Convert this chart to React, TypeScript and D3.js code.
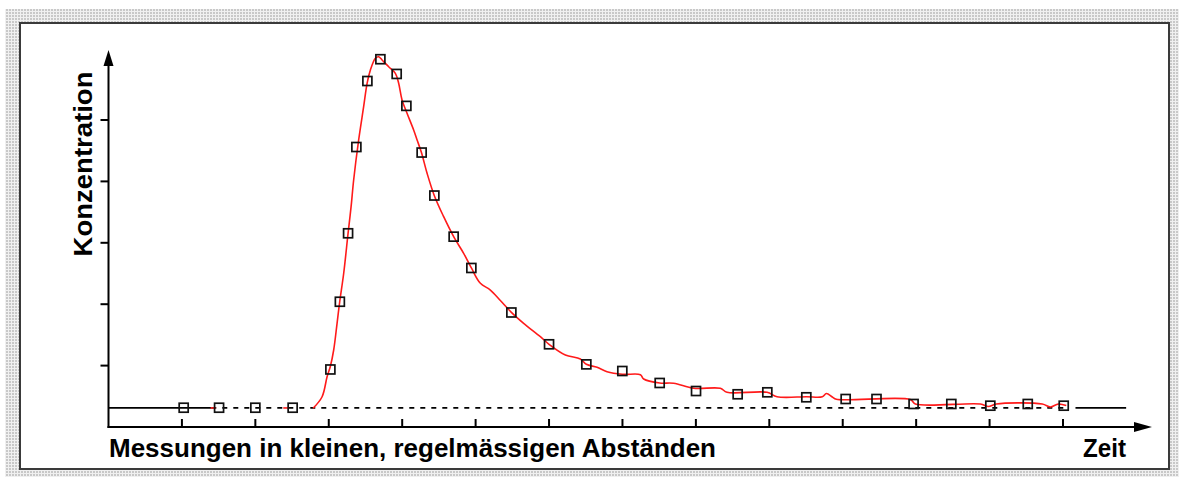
import React from "react";
import * as d3 from "d3";

// ---- data (time units, concentration units) ----
const markerX = [10.24, 15.06, 20.0, 25.08, 30.22, 31.51, 32.63, 33.76, 35.26, 37.03, 39.25, 40.57, 42.65, 44.38, 47.01, 49.42, 54.87, 60.0, 65.08, 69.98, 75.07, 80.02, 85.69, 89.73, 95.04, 100.4, 104.6, 109.65, 114.79, 120.1, 125.2, 130.1];
const markerY = [0.314, 0.314, 0.314, 0.314, 0.937, 2.04, 3.155, 4.56, 5.635, 5.99, 5.75, 5.23, 4.47, 3.77, 3.1, 2.59, 1.865, 1.347, 1.02, 0.912, 0.717, 0.586, 0.533, 0.565, 0.484, 0.456, 0.456, 0.375, 0.375, 0.347, 0.375, 0.347];

const curveX = [27.86, 29.09, 29.77, 30.22, 30.67, 31.13, 31.49, 32.03, 32.63, 33.04, 33.39, 34.07, 34.75, 35.22, 35.67, 36.35, 36.8, 37.26, 38.16, 39.07, 39.52, 39.98, 40.66, 41.56, 42.03, 42.61, 43.39, 44.38, 45.65, 47.01, 48.37, 49.42, 50.65, 52.01, 53.37, 54.87, 56.54, 58.82, 60.0, 62.22, 64.26, 65.08, 66.54, 67.9, 69.98, 72.44, 72.89, 75.07, 76.97, 79.69, 83.33, 84.24, 89.69, 91.05, 95.04, 97.22, 97.77, 98.58, 99.13, 109.21, 109.89, 118.74, 119.83, 120.92, 127.18, 128.27, 129.36, 130.45];
const curveY = [0.305, 0.493, 0.819, 0.99, 1.254, 1.689, 2.04, 2.5, 3.155, 3.588, 4.023, 4.674, 5.217, 5.598, 5.814, 6.005, 6.03, 5.977, 5.868, 5.76, 5.598, 5.326, 5.109, 4.837, 4.674, 4.474, 4.132, 3.767, 3.425, 3.1, 2.829, 2.59, 2.34, 2.231, 2.06, 1.868, 1.689, 1.471, 1.347, 1.173, 1.107, 1.021, 0.972, 0.9, 0.858, 0.852, 0.782, 0.717, 0.712, 0.63, 0.63, 0.565, 0.565, 0.493, 0.493, 0.493, 0.546, 0.489, 0.451, 0.448, 0.375, 0.375, 0.334, 0.375, 0.375, 0.326, 0.375, 0.35];

// small red fragments on the baseline
const fragStart = [13.9, 23.8];
const fragEnd = [14.6, 24.6];

const baselineValue = 0.31;
const solidLeftEnd = 14;
const dashedEnd = 130.8;
const solidRightStart = 131.7;
const solidRightEnd = 138.6;

const xTicks = [10, 20, 30, 40, 50, 60, 70, 80, 90, 100, 110, 120, 130];
const yTicks = [1, 2, 3, 4, 5];

const yLabel = "Konzentration";
const xLabel = "Messungen in kleinen, regelmässigen Abständen";
const xEndLabel = "Zeit";

export default function App() {
  const W = 1179, H = 477;
  const x = d3.scaleLinear().domain([0, 130]).range([108.5, 1063]);
  const y = d3.scaleLinear().domain([0, 1]).range([427, 365.6]);

  const line = d3
    .line<number>()
    .x((_, i) => x(curveX[i]))
    .y((d) => y(d))
    .curve(d3.curveCatmullRom.alpha(0.5));

  const font = "'Liberation Sans', Arial, sans-serif";
  const x0 = x(0);
  const y0 = y(0);
  const yb = y(baselineValue);

  return (
    <svg
      width={W}
      height={H}
      style={{ position: "absolute", left: 0, top: 0, display: "block" }}
    >
      <defs>
        <pattern id="grid" width="3" height="3" patternUnits="userSpaceOnUse">
          <rect width="3" height="3" fill="#f0f0f0" />
          <rect width="2" height="2" fill="#c8c8c8" />
        </pattern>
      </defs>
      <rect x={0} y={0} width={W} height={H} fill="#fff" />
      <rect x={5} y={9} width={W - 5} height={H - 9} fill="url(#grid)" />
      <rect x={20} y={23} width={1149} height={446} fill="#fff" stroke="#3a3a3a" strokeWidth={2} />

      {/* baseline */}
      <line x1={x0} x2={x(solidLeftEnd)} y1={yb} y2={yb} stroke="#000" strokeWidth={1.8} />
      <line x1={x(solidLeftEnd)} x2={x(dashedEnd)} y1={yb} y2={yb} stroke="#000" strokeWidth={1.8} strokeDasharray="5 6" />
      <line x1={x(solidRightStart)} x2={x(solidRightEnd)} y1={yb} y2={yb} stroke="#000" strokeWidth={1.8} />

      {/* axes */}
      <line x1={x0} x2={x0} y1={y0 + 1} y2={64} stroke="#000" strokeWidth={2} />
      <path d={`M${x0},50 L${x0 - 5},66 L${x0 + 5},66 Z`} fill="#000" />
      <line x1={x0 - 1} x2={1136} y1={y0} y2={y0} stroke="#000" strokeWidth={2} />
      <path d={`M1152,${y0} L1134,${y0 - 5} L1134,${y0 + 5} Z`} fill="#000" />

      {yTicks.map((t) => (
        <line key={"yt" + t} x1={x0 - 8} x2={x0} y1={y(t)} y2={y(t)} stroke="#000" strokeWidth={2} />
      ))}
      {xTicks.map((t) => (
        <line key={"xt" + t} x1={x(t)} x2={x(t)} y1={y0} y2={y0 - 8} stroke="#000" strokeWidth={2} />
      ))}

      {/* red curve */}
      <path d={line(curveY) || ""} fill="none" stroke="#ff1a1a" strokeWidth={1.6} />
      {fragStart.map((s, i) => (
        <line key={"fr" + i} x1={x(s)} x2={x(fragEnd[i])} y1={yb} y2={yb} stroke="#ff1a1a" strokeWidth={1.6} />
      ))}

      {/* markers */}
      {markerX.map((mx, i) => (
        <rect
          key={"m" + i}
          x={x(mx) - 4.5}
          y={y(markerY[i]) - 4.5}
          width={9}
          height={9}
          fill="none"
          stroke="#111"
          strokeWidth={1.7}
        />
      ))}

      {/* labels */}
      <text
        transform={`translate(92,164) rotate(-90)`}
        textAnchor="middle"
        fontFamily={font}
        fontWeight="bold"
        fontSize={26}
        textLength={185}
        lengthAdjust="spacingAndGlyphs"
        fill="#000"
      >
        {yLabel}
      </text>
      <text
        x={109}
        y={457}
        fontFamily={font}
        fontWeight="bold"
        fontSize={26}
        textLength={607}
        lengthAdjust="spacingAndGlyphs"
        fill="#000"
      >
        {xLabel}
      </text>
      <text
        x={1083}
        y={457}
        fontFamily={font}
        fontWeight="bold"
        fontSize={26}
        textLength={43}
        lengthAdjust="spacingAndGlyphs"
        fill="#000"
      >
        {xEndLabel}
      </text>
    </svg>
  );
}
